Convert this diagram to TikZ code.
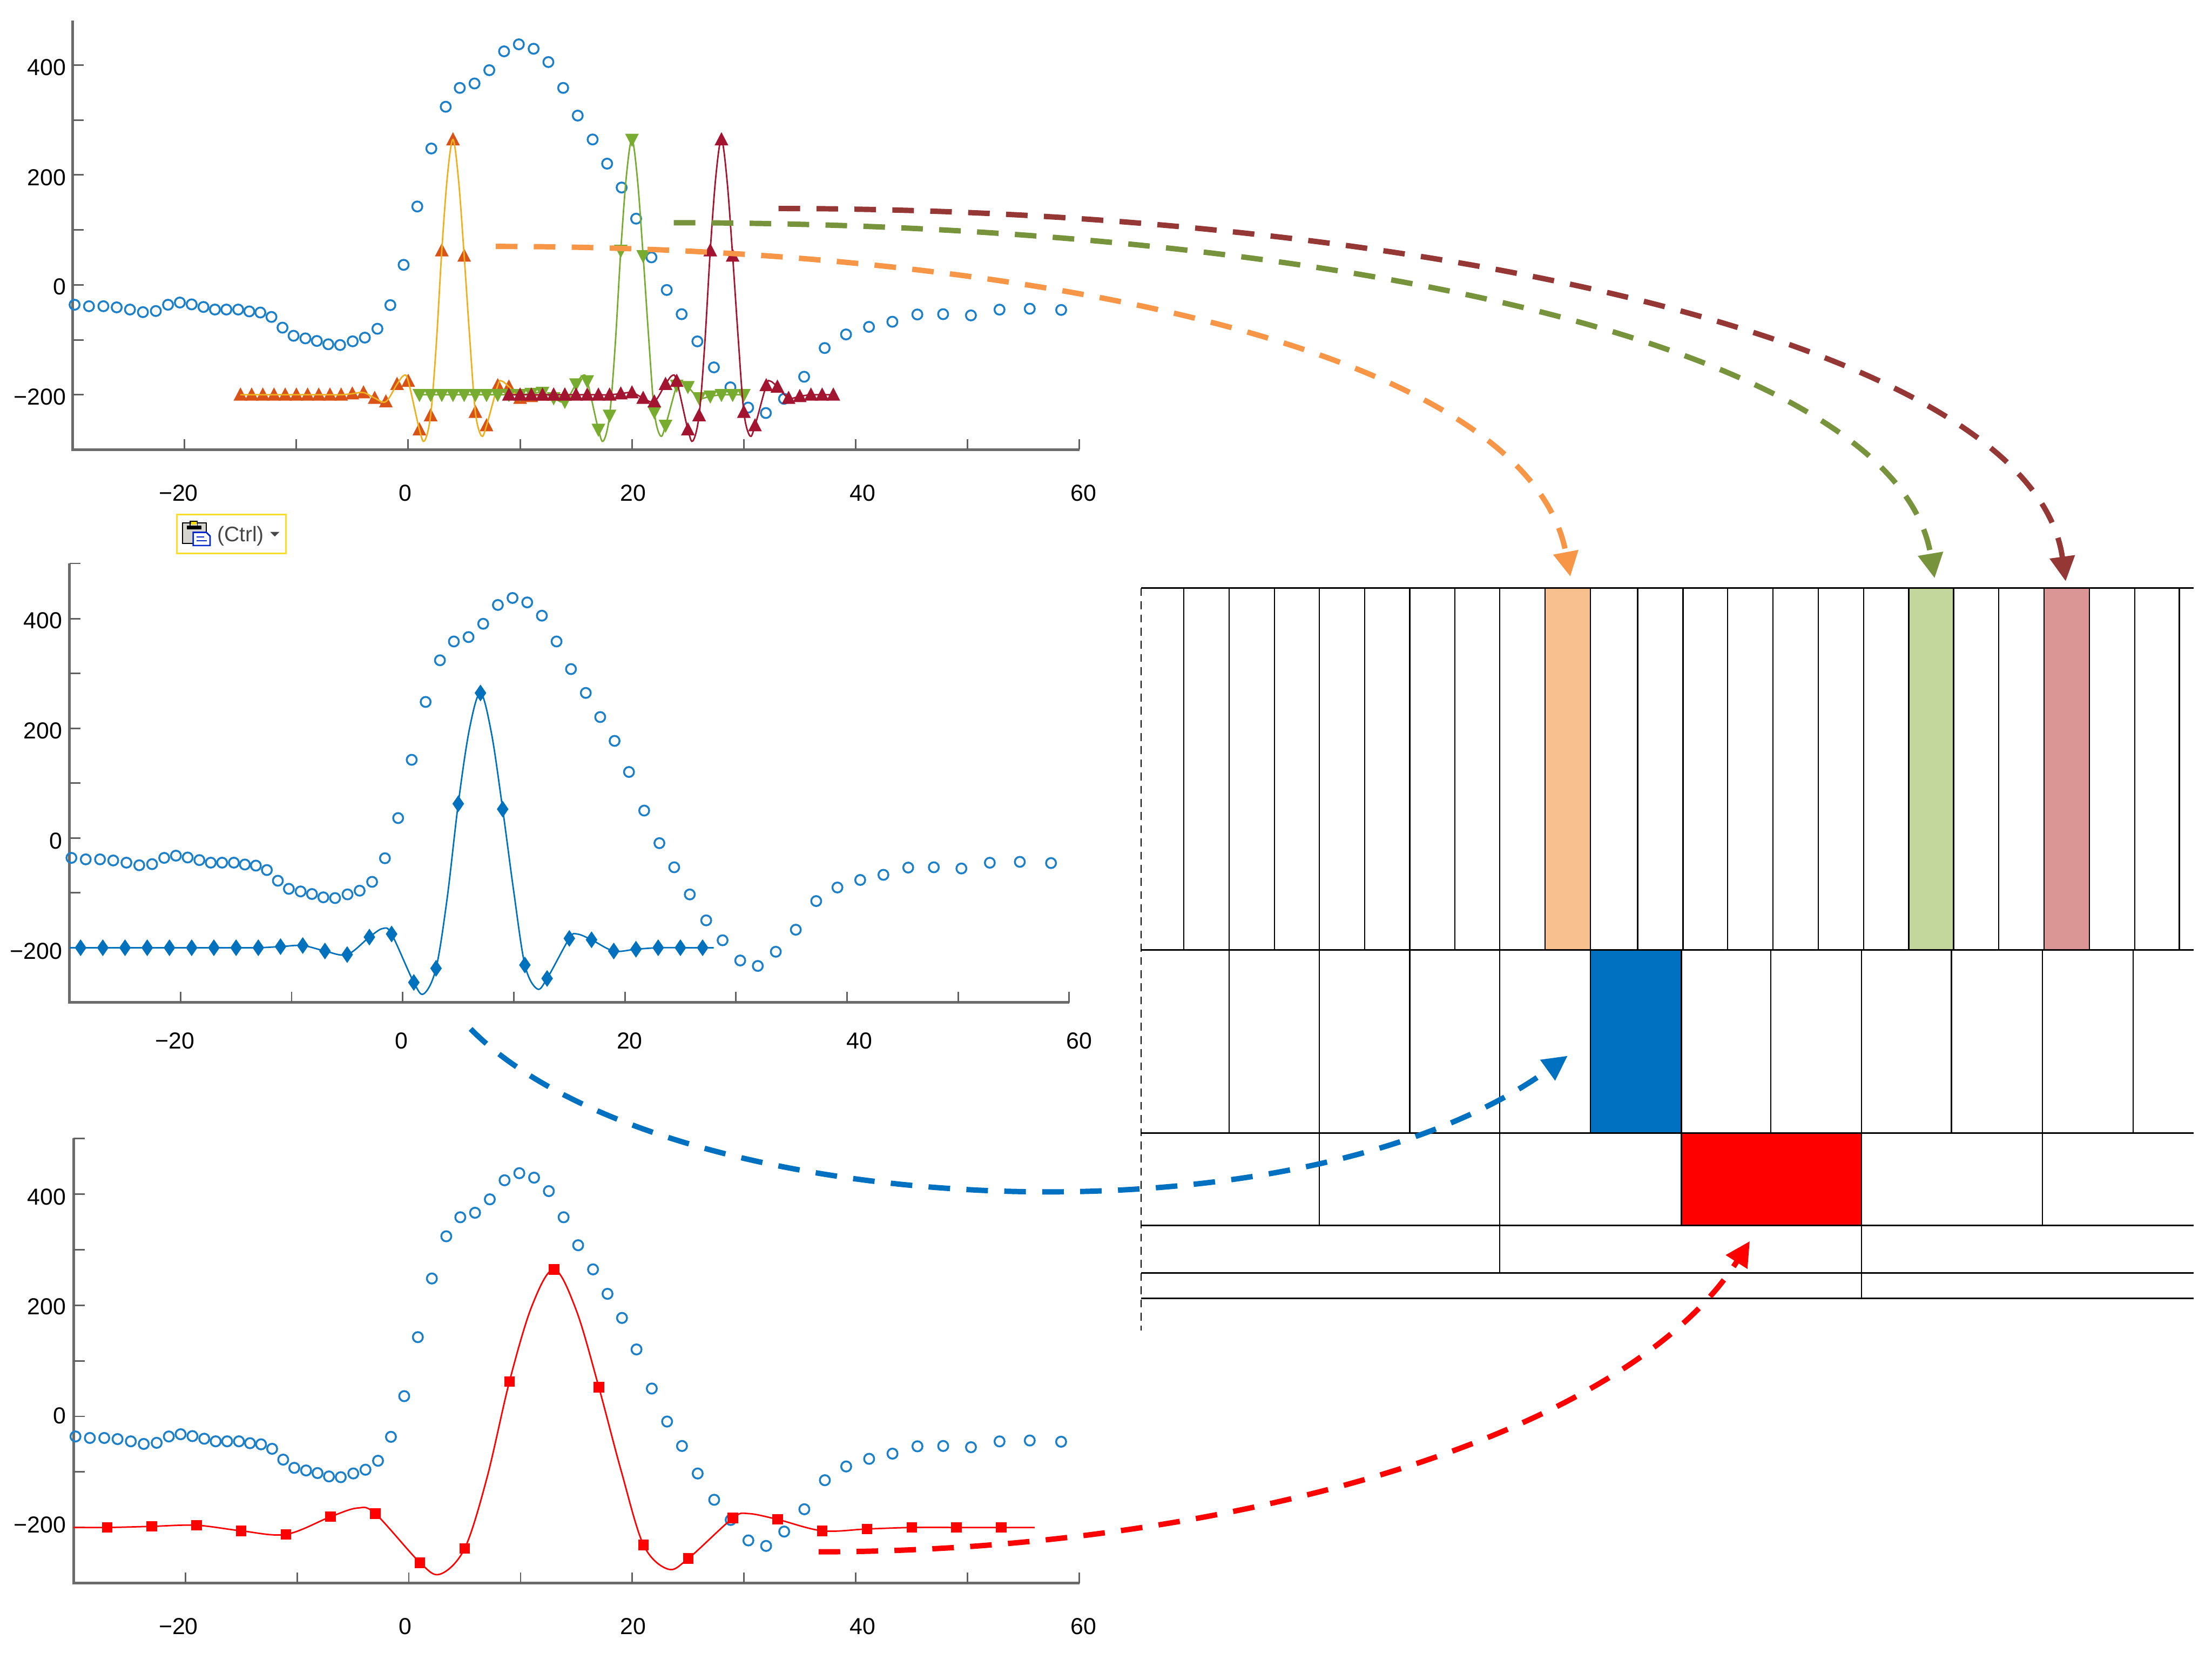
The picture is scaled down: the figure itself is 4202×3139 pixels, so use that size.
\documentclass[tikz,border=0pt]{standalone}
\usepackage{fontspec}
\setmainfont{Liberation Sans}
\usetikzlibrary{arrows.meta}
\definecolor{circblue}{HTML}{1C7FC9}
\definecolor{mblue}{HTML}{0072BD}
\definecolor{morange}{HTML}{D95319}
\definecolor{myellow}{HTML}{EDB120}
\definecolor{mgreen}{HTML}{77AC30}
\definecolor{mred}{HTML}{A2142F}
\definecolor{floworange}{HTML}{F79646}
\definecolor{flowgreen}{HTML}{77933C}
\definecolor{flowred}{HTML}{953735}
\definecolor{floworblue}{HTML}{0070C0}
\definecolor{cellorange}{HTML}{F9C08F}
\definecolor{cellgreen}{HTML}{C3D69B}
\definecolor{cellred}{HTML}{D99694}
\tikzset{
  spine/.style={draw=black!58,line width=1.35pt},
  tickline/.style={draw=black!62,line width=.85pt},
  ticklabel/.style={inner sep=0pt,font=\fontsize{12.5}{14}\selectfont},
  circmark/.style={draw=circblue,line width=1pt},
  wavepen/.style={line width=.8pt},
  gridline/.style={draw=black,line width=.65pt},
  rowline/.style={draw=black,line width=.85pt},
  flow/.style={line width=2.9pt,dash pattern=on .41cm off .31cm,-{Triangle[length=.47cm,width=.46cm]}},
}
% wavelet samples: k / value
\def\wavelist{-19/-200,-18/-200,-17/-200,-16/-200,-15/-200,-14/-200,-13/-200,-12/-200,-11/-200,-10/-200,-9/-198,-8/-196,-7/-206,-6/-212.5,-5/-180.6,-4/-175,-3/-263.3,-2/-237.6,-1/62.5,0/264.5,1/52.7,2/-231.5,3/-256,4/-183,5/-185.5,6/-206,7/-202.7,8/-200,9/-200,10/-200}
% args: x0,ux,y0,uy,centre,dilation,kmin,kmax,style
\newcommand{\waveline}[9]{%
  \begin{scope}[shift={({#1+#5*#2},#3)},xscale={#6*#2},yscale={-#4}]
    \clip (#7,-500) rectangle (#8,500);
    \draw[wavepen,#9] plot[smooth,tension=.55] coordinates {(-21,-200) (-20,-200) (-19,-200) (-18,-200) (-17,-200) (-16,-200) (-15,-200) (-14,-200) (-13,-200) (-12,-200) (-11,-200) (-10,-200) (-9,-198) (-8,-196) (-7,-206) (-6,-212.5) (-5,-180.6) (-4.4,-165) (-4,-175) (-3,-263.3) (-2.55,-284) (-2,-237.6) (-1.5,-110) (-1,62.5) (-.5,198) (0,264.5) (.5,190) (1,52.7) (1.5,-98) (2,-231.5) (2.55,-275) (3,-256) (4,-183) (4.35,-175) (5,-185.5) (6,-206) (7,-202.7) (8,-200) (9,-200) (10,-200) (11,-200) (12,-200)};
  \end{scope}}
% args: x0,ux,y0,uy,centre,dilation,kmin,colour; shape in \markpath
\newcommand{\wavemarks}[8]{%
  \foreach \k/\w in \wavelist {%
    \ifnum\k<#7\relax\else
      \fill[#8] ({#1+(#5+#6*\k)*#2},{#3-\w*#4}) \markpath;
    \fi}}
\def\uptri{++(0,-14) -- ++(13,25) -- ++(-26,0) -- cycle}
\def\downtri{++(0,14) -- ++(13,-25) -- ++(-26,0) -- cycle}
\def\dia{++(0,-16) -- ++(11,16) -- ++(-11,16) -- ++(-11,-16) -- cycle}
\def\sq{++(-10,-10) -- ++(20,0) -- ++(0,20) -- ++(-20,0) -- cycle}
% args: x0,ux,y0,uy
\newcommand{\bluecircles}[4]{%
  \begin{scope}[shift={(#1,#3)},xscale={#2/21.25},yscale={#4/1.0435}]
    \foreach \a/\b in {202/825,241/829,280/829,316/832,352/838,387/845,422/842,455/825,487/819,519/824,551/831,582/838,613/838,645/838,675/843,705/846,735/858,765/887,795/909,827/916,858/923,889/932,921/934,955/924,988/914,1022/890,1057/826,1093/717,1130/559,1168/402,1207/289,1245/238,1285/226,1325/190,1365/139,1405/120,1445/132,1485/168,1525/238}
      \draw[circmark] ({\a*.7015-775.5},{\b*.7015-541}) circle[radius=9.5];
    \foreach \a/\b in {258/34,295/113,331/193,367/272,403/375,441/503,479/611,516/691,555/781,596/867,637/933,681/1000,725/1018,770/971,820/898,871/803,924/758,981/733,1039/716,1101/692,1165/691,1234/695,1305/676,1380/673,1458/677}
      \draw[circmark] ({900+\a*.7653-775.5},{200+\b*.574-541}) circle[radius=9.5];
  \end{scope}}
% args: x0,ux,y0,uy,left,bottom,top
\newcommand{\plotframe}[7]{%
  \draw[spine] (#5,#7) -- (#5,#6) -- ({#1+60*#2},#6);
  \foreach \v in {-20,-10,0,10,20,30,40,50,60}
    \draw[tickline] ({#1+\v*#2},#6) -- ({#1+\v*#2},{#6-20});
  \foreach \v in {-200,-100,0,100,200,300,400}
    \draw[tickline] (#5,{#3-\v*#4}) -- ({#5+21},{#3-\v*#4});}
\begin{document}
\begin{tikzpicture}[x=0.01cm,y=-0.01cm]
\useasboundingbox (0,0) rectangle (4202,3139);
\fill[white] (0,0) rectangle (4202,3139);

%% ---- plot 1
\plotframe{775.5}{21.25}{541}{1.0435}{138}{854}{39}
\bluecircles{775.5}{21.25}{541}{1.0435}
\let\markpath\uptri
\wavemarks{775.5}{21.25}{541}{1.0435}{4}{1}{-19}{morange}
\waveline{775.5}{21.25}{541}{1.0435}{4}{1}{-19}{10}{myellow}
\let\markpath\downtri
\wavemarks{775.5}{21.25}{541}{1.0435}{20}{1}{-19}{mgreen}
\waveline{775.5}{21.25}{541}{1.0435}{20}{1}{-19}{10}{mgreen}
\let\markpath\uptri
\wavemarks{775.5}{21.25}{541}{1.0435}{28}{1}{-19}{mred}
\waveline{775.5}{21.25}{541}{1.0435}{28}{1}{-19}{10}{mred}
\foreach \y/\t [count=\i] in {128/400,337/200,544/0,754/−200}
  \node[ticklabel,anchor=east] (pay\i) at (126,\y) {\t};
\foreach \x/\t [count=\i] in {339/−20,770/0,1203/20,1639/40,2058/60}
  \node[ticklabel] (pax\i) at (\x,936) {\t};

%% ---- paste-options button
\draw[draw=yellow!75!orange!85!white,line width=.75pt] (336,977) rectangle (543,1051);
\fill[black!22!yellow!8!gray!40] (347,993) rectangle (392,1032);
\draw[black,line width=.7pt] (347,993) rectangle (392,1032);
\fill[black] (355,998) rectangle (383,1005);
\fill[yellow!80!orange] (363,989) rectangle (373,996);
\draw[black,line width=.5pt] (361,998) -- (361,990) -- (375,990) -- (375,998);
\fill[white] (367,1011) -- (392,1011) -- (399,1018) -- (399,1036) -- (367,1036) -- cycle;
\draw[blue!80!cyan!80!black,line width=.8pt] (367,1011) -- (392,1011) -- (399,1018) -- (399,1036) -- (367,1036) -- cycle;
\draw[blue!80!cyan!80!black,line width=.6pt] (373,1020) -- (388,1020) (373,1027) -- (393,1027);
\node[text=black!72,inner sep=0pt,font=\fontsize{11.4}{13}\selectfont] (ctrl) at (457,1018) {(Ctrl)};
\fill[black!72] (513,1010) -- (531,1010) -- (522,1019) -- cycle;

%% ---- plot 2
\plotframe{765}{21.1}{1591.5}{1.0415}{132}{1903.5}{1070}
\draw[tickline] (132,1070) -- (153,1070);
\bluecircles{765}{21.1}{1591.5}{1.0415}
\let\markpath\dia
\wavemarks{765}{21.1}{1591.5}{1.0415}{7}{2}{-18}{mblue}
\waveline{765}{21.1}{1591.5}{1.0415}{7}{2}{-18.5}{10.5}{mblue}
\foreach \y/\t [count=\i] in {1178/400,1388/200,1597/0,1806/−200}
  \node[ticklabel,anchor=east] (pby\i) at (119,\y) {\t};
\foreach \x/\t [count=\i] in {332/−20,763/0,1196/20,1632.5/40,2050/60}
  \node[ticklabel] (pbx\i) at (\x,1977) {\t};

%% ---- plot 3
\plotframe{776.6}{21.23}{2689.8}{1.055}{140}{3006.5}{2162}
\draw[tickline] (140,2162) -- (161,2162);
\bluecircles{776.6}{21.23}{2689.8}{1.055}
\let\markpath\sq
\wavemarks{776.6}{21.23}{2689.8}{1.055}{13}{4}{-10}{red}
\waveline{776.6}{21.23}{2689.8}{1.055}{13}{4}{-10.75}{10.75}{red}
\foreach \y/\t [count=\i] in {2273/400,2481/200,2689/0,2896/−200}
  \node[ticklabel,anchor=east] (pcy\i) at (126,\y) {\t};
\foreach \x/\t [count=\i] in {339/−20,770/0,1203/20,1639/40,2058/60}
  \node[ticklabel] (pcx\i) at (\x,3089) {\t};

%% ---- time-frequency table
\fill[cellorange] (2935,1117) rectangle (3021,1804);
\fill[cellgreen] (3626,1117) rectangle (3711,1804);
\fill[cellred] (3883,1117) rectangle (3969,1804);
\fill[floworblue] (3021,1804) rectangle (3194,2152);
\fill[red] (3194,2152) rectangle (3536,2327.5);
\foreach \x in {2249,2335,2421,2506,2592,2678,2764,2849,2935,3021,3111,3197,3282,3368,3454,3540,3626,3711,3797,3883,3969,4055,4140}
  \draw[gridline] (\x,1117) -- (\x,1804);
\foreach \x in {2335,2506,2678,2849,3021,3194,3364,3536,3707,3880,4052}
  \draw[gridline] (\x,1804) -- (\x,2152);
\foreach \x in {2506,2849,3194,3536,3880}
  \draw[gridline] (\x,2152) -- (\x,2327.5);
\foreach \x in {2849,3536}
  \draw[gridline] (\x,2327.5) -- (\x,2417);
\draw[gridline] (3536,2417) -- (3536,2466);
\foreach \y in {1117,1804,2152,2327.5,2417,2466}
  \draw[rowline] (2168,\y) -- (4167,\y);
\draw[draw=black,line width=.6pt,dash pattern=on .15cm off .1cm] (2168,1117) -- (2168,2527);

%% ---- flows
\coordinate (orS) at (942,468);   \coordinate (orE) at (2983,1095);
\coordinate (grS) at (1280,423);  \coordinate (grE) at (3675,1098);
\coordinate (drS) at (1479,396);  \coordinate (drE) at (3924,1104);
\coordinate (blS) at (894,1954);  \coordinate (blE) at (2978,2005);
\coordinate (reS) at (1555,2947); \coordinate (reE) at (3324,2357);
\draw[flow,floworange] (orS) .. controls (1900,468) and (2900,650) .. (orE);
\draw[flow,flowgreen] (grS) .. controls (2500,423) and (3600,650) .. (grE);
\draw[flow,flowred] (drS) .. controls (2650,396) and (3860,640) .. (drE);
\draw[flow,floworblue] (blS) .. controls (1250,2315) and (2450,2385) .. (blE);
\draw[flow,red] (reS) .. controls (2300,2947) and (3080,2740) .. (reE);
\end{tikzpicture}
\end{document}
